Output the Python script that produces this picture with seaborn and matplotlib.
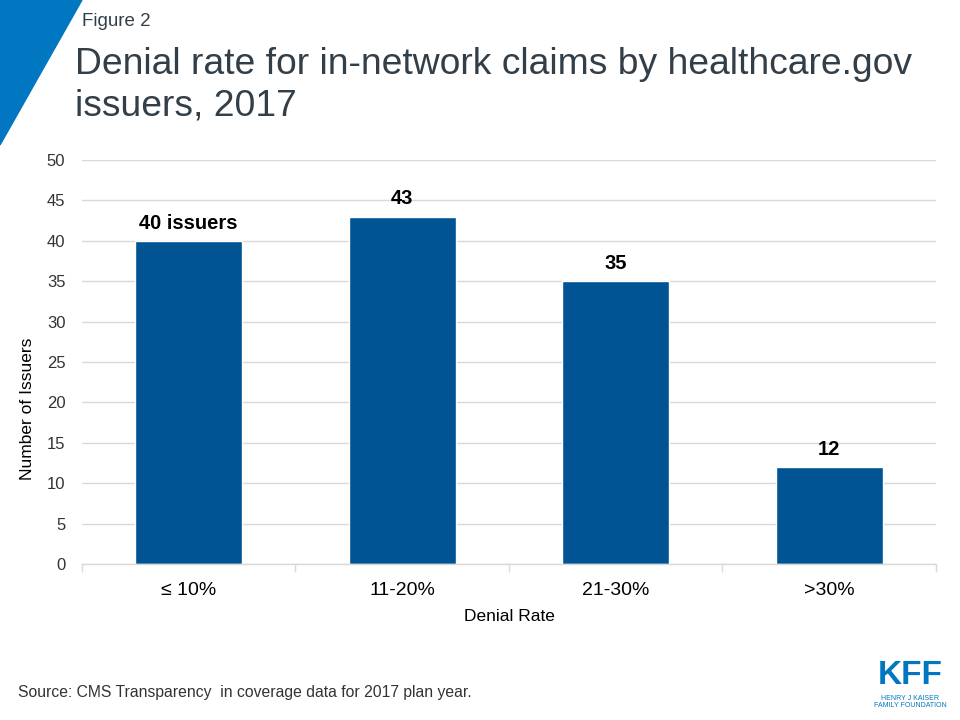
import matplotlib
matplotlib.use("Agg")
import matplotlib.pyplot as plt
import seaborn as sns
import pandas as pd
from matplotlib.patches import Polygon

categories = ["≤ 10%", "11-20%", "21-30%", ">30%"]
issuers = [40, 43, 35, 12]
bar_labels = ["40 issuers", "43", "35", "12"]

df = pd.DataFrame({"rate": categories, "count": issuers})

sns.set_theme(style="white")
plt.rcParams["font.family"] = ["Liberation Sans", "DejaVu Sans"]

fig = plt.figure(figsize=(9.6, 7.2), dpi=100)
ax = fig.add_axes([0.0854, 0.2167, 0.8896, 0.5611])

sns.barplot(data=df, x="rate", y="count", color="#005493", saturation=1,
            width=0.5, ax=ax)

ax.set_ylim(0, 50)
ax.set_xlim(-0.5, 3.5)
ax.set_yticks(range(0, 51, 5))
ax.yaxis.grid(True, color="#d9d9d9", linewidth=1)
ax.set_axisbelow(True)
for s in ["left", "right", "top"]:
    ax.spines[s].set_visible(False)
ax.spines["bottom"].set_color("#d9d9d9")
ax.spines["bottom"].set_linewidth(1)

# category boundary ticks
ax.set_xticks([-0.5, 0.5, 1.5, 2.5, 3.5], minor=True)
ax.tick_params(axis="x", which="minor", length=6, color="#d9d9d9", width=1,
               bottom=True)
ax.tick_params(axis="x", which="major", length=0, labelsize=14, pad=13,
               labelcolor="#000000")
ax.tick_params(axis="y", length=0, labelsize=12, labelcolor="#333333", pad=12)

ax.set_xlabel("Denial Rate", fontsize=12.5, color="#000000", labelpad=7)
ax.set_ylabel("Number of Issuers", fontsize=12.5, color="#000000")
ax.yaxis.set_label_coords(-0.055, 0.384)

for i, (v, lab) in enumerate(zip(issuers, bar_labels)):
    ax.text(i, v + 1.0, lab, ha="center", va="bottom", fontsize=14.5,
            fontweight="bold", color="#000000")

# decorative triangle
tri = Polygon([(0, 1), (82 / 960, 1), (0, 1 - 145 / 720)], closed=True,
              transform=fig.transFigure, color="#0077c0", zorder=0)
fig.patches.append(tri)

fig.text(82 / 960, 1 - 22 / 720, "Figure 2", fontsize=13.5, color="#333f48",
         va="center", ha="left")
fig.text(75 / 960, 1 - 85 / 720,
         "Denial rate for in-network claims by healthcare.gov\nissuers, 2017",
         fontsize=26.8, color="#333f48", va="center", ha="left",
         linespacing=1.25)

fig.text(18 / 960, 1 - 692 / 720,
         "Source: CMS Transparency  in coverage data for 2017 plan year.",
         fontsize=11.3, color="#333333", va="center", ha="left")

fig.text(910 / 960, 1 - 676 / 720, "KFF", fontsize=24, fontweight="bold",
         color="#0077c0", va="center", ha="center")
fig.text(910 / 960, 1 - 702 / 720, "HENRY J KAISER\nFAMILY FOUNDATION",
         fontsize=5, color="#0077c0", va="center", ha="center",
         linespacing=1.1)

fig.savefig("out.png", dpi=100)
